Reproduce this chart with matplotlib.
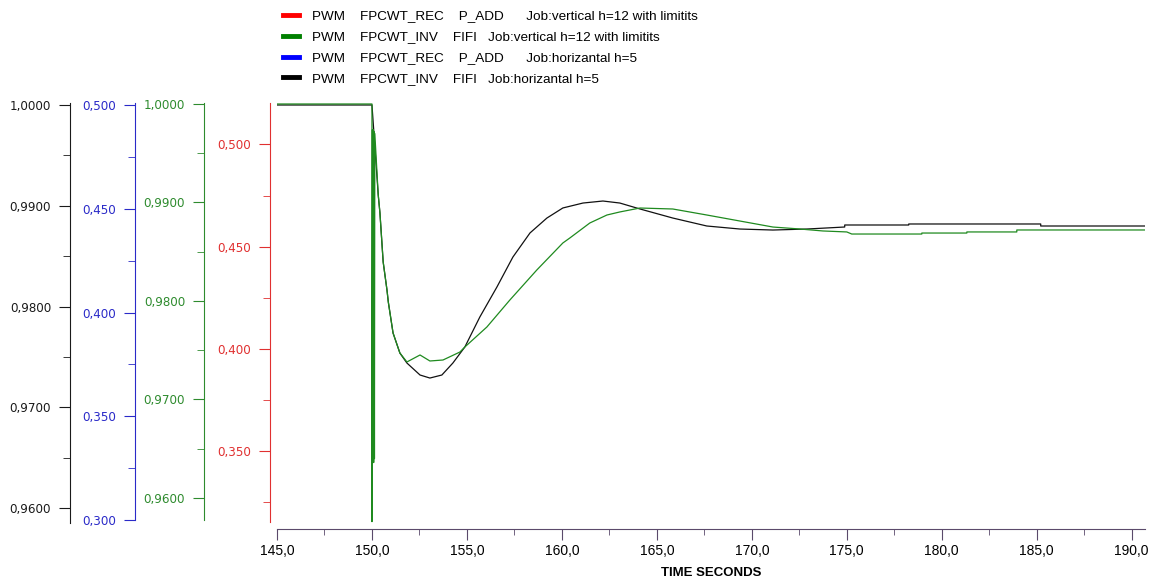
import matplotlib
matplotlib.use("Agg")
import matplotlib.pyplot as plt
from matplotlib.lines import Line2D
from matplotlib.ticker import MultipleLocator, FuncFormatter

W, H = 1154, 583

# PWM FPCWT_INV FIFI  Job:vertical h=12 with limitits (green scale)
t_green = [145.0, 150.0, 150.0, 150.03, 150.05, 150.07, 150.09, 150.11, 150.13, 150.15,
           150.33, 150.42, 150.59, 150.79, 150.86, 151.11, 151.47, 151.84,
           152.53, 153.05, 153.74, 154.63, 154.89, 156.05, 157.26, 158.68,
           160.05, 160.42, 161.47, 162.37, 163.05, 164.11, 165.84, 167.63,
           169.37, 171.11, 172.53, 173.74, 175.0, 175.26, 178.95, 178.95,
           181.32, 181.32, 183.95, 183.95, 190.7]
v_green = [1.0, 1.0, 0.9576, 0.9974, 0.9636, 0.9974, 0.9636, 0.9972, 0.9640, 0.9970,
           0.99076, 0.98893, 0.98396, 0.98112, 0.97990, 0.97675, 0.97472, 0.97381,
           0.97452, 0.97391, 0.97401, 0.97482, 0.97533, 0.97736, 0.98010, 0.98315,
           0.98589, 0.98640, 0.98792, 0.98873, 0.98904, 0.98944, 0.98934, 0.98873,
           0.98812, 0.98751, 0.98731, 0.98711, 0.98701, 0.98680, 0.98680, 0.98690,
           0.98690, 0.98701, 0.98701, 0.98721, 0.98721]

# PWM FPCWT_INV FIFI  Job:horizantal h=5 (black scale)
t_black = [145.0, 150.0, 150.1, 150.33, 150.42, 150.59, 150.79, 150.86, 151.11, 151.47,
           151.84, 152.53, 153.05, 153.68, 154.26, 154.89, 155.68, 156.58, 157.42,
           158.32, 159.21, 160.05, 161.11, 162.16, 163.05, 164.11, 165.84, 167.63,
           169.37, 171.11, 172.89, 174.89, 174.89, 178.26, 178.26, 185.21, 185.21, 190.7]
v_black = [1.0, 1.0, 0.9973, 0.99107, 0.98928, 0.98442, 0.98164, 0.98045, 0.97737, 0.97538,
           0.97439, 0.97320, 0.97290, 0.97320, 0.97439, 0.97598, 0.97896, 0.98194, 0.98491,
           0.98730, 0.98878, 0.98978, 0.99027, 0.99047, 0.99027, 0.98968, 0.98878, 0.98799,
           0.98769, 0.98759, 0.98769, 0.98789, 0.98809, 0.98809, 0.98819, 0.98819, 0.98799, 0.98799]

legend_labels = [
    "PWM    FPCWT_REC    P_ADD      Job:vertical h=12 with limitits",
    "PWM    FPCWT_INV    FIFI   Job:vertical h=12 with limitits",
    "PWM    FPCWT_REC    P_ADD      Job:horizantal h=5",
    "PWM    FPCWT_INV    FIFI   Job:horizantal h=5",
]
legend_colors = ["#ff0000", "#008000", "#0000ff", "#000000"]

x_ticks = [145, 150, 155, 160, 165, 170, 175, 180, 185, 190]


def box(x0, y0, x1, y1):
    return [x0 / W, 1 - y1 / H, (x1 - x0) / W, (y1 - y0) / H]


def comma(nd):
    return FuncFormatter(lambda v, p: f"{v:.{nd}f}".replace(".", ","))


fig = plt.figure(figsize=(W / 100, H / 100), dpi=100)

# main time axis
ax = fig.add_axes(box(277, 98, 1145, 529))
for s in ["top", "left", "right"]:
    ax.spines[s].set_visible(False)
ax.spines["bottom"].set_color("#5b4a6b")
ax.set_xlim(145, 190.7)
ax.set_yticks([])
ax.set_xticks(x_ticks)
ax.xaxis.set_major_formatter(comma(1))
ax.xaxis.set_minor_locator(MultipleLocator(2.5))
ax.tick_params(axis="x", which="major", length=8, color="#5b4a6b", pad=3)
ax.tick_params(axis="x", which="minor", length=4, color="#5b4a6b")
for lab in ax.get_xticklabels():
    lab.set_family(["Liberation Sans Narrow", "Liberation Sans"])
    lab.set_fontsize(10)
ax.set_xlabel("TIME SECONDS", family=["Liberation Sans Narrow", "Liberation Sans"],
              fontsize=9.5, fontweight="bold", labelpad=6)

axb = ax.twinx()
axg = ax.twinx()
for a, lim in [(axb, (0.957916, 1.000695)), (axg, (0.956853, 1.000609))]:
    a.set_ylim(*lim)
    a.set_yticks([])
    for s in a.spines.values():
        s.set_visible(False)
axb.plot(t_black, v_black, color="#111111", lw=0.9)
axg.plot(t_green, v_green, color="#1f8a1f", lw=0.9)

# separate y scales on the left
scales = [
    (70, 103, 523, (0.958511, 1.000199), 0.01, 0.005, 4, "#1a1a1a"),
    (135, 103, 520, (0.3, 0.500964), 0.05, 0.025, 3, "#2a2ac8"),
    (204, 103, 520, (0.957766, 1.0001), 0.01, 0.005, 4, "#2e8b2e"),
    (270, 103, 522, (0.31525, 0.52031), 0.05, 0.025, 3, "#e03030"),
]
for x, y0, y1, lim, major, minor, nd, col in scales:
    a = fig.add_axes(box(x, y0, x + 1, y1))
    a.patch.set_visible(False)
    for s in ["top", "bottom", "right"]:
        a.spines[s].set_visible(False)
    a.spines["left"].set_color(col)
    a.set_xticks([])
    a.set_ylim(*lim)
    a.yaxis.set_major_locator(MultipleLocator(major))
    a.yaxis.set_minor_locator(MultipleLocator(minor))
    a.yaxis.set_major_formatter(comma(nd))
    a.tick_params(axis="y", which="major", length=8, color=col, labelcolor=col,
                  labelsize=8.6, pad=5.5)
    a.tick_params(axis="y", which="minor", length=5, color=col)

handles = [Line2D([], [], color=c, lw=3.5) for c in legend_colors]
fig.legend(handles, legend_labels, loc="upper left", bbox_to_anchor=(283 / W, 1 - 10 / H),
           frameon=False, prop={"family": "Liberation Sans", "size": 9.7},
           handlelength=1.2, handletextpad=0.96, labelspacing=0.63,
           borderpad=0, borderaxespad=0)

fig.savefig("out.png", dpi=100)
